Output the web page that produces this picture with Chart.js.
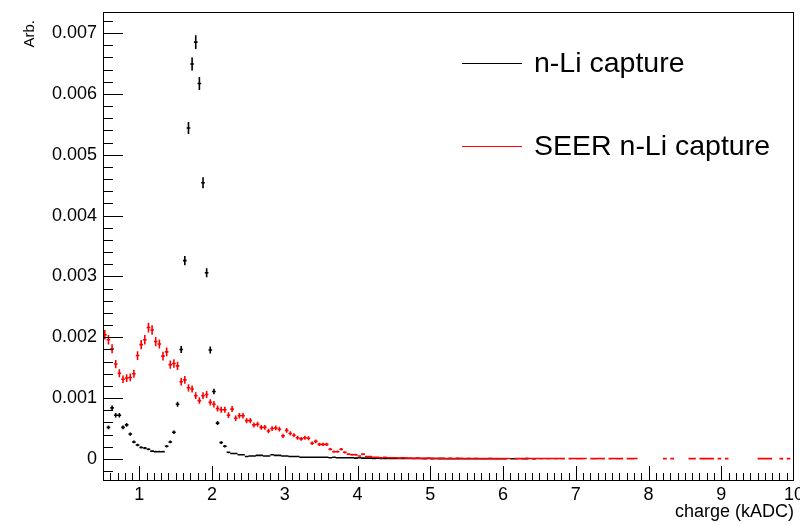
<!DOCTYPE html>
<html>
<head>
<meta charset="utf-8">
<script src="https://cdn.jsdelivr.net/npm/chart.js@4.4.1/dist/chart.umd.min.js"></script>
<style>
  html, body { margin: 0; padding: 0; background: #fff; }
  #wrap { width: 800px; height: 525px; }
</style>
</head>
<body>
<div id="wrap"><canvas id="histChart" width="800" height="525"></canvas></div>
<script>
// binning of the charge axis (kADC)
const binLow = 0.5;
const binWidth = 0.05;

// bin contents, in units of 0.001 (Arb.), null = empty bin
const nLiCapture = [
  null, 0.52, 0.84, 0.72, 0.72, 0.52, 0.56, 0.41, 0.28, 0.23,
  0.19, 0.18, 0.16, 0.13, 0.12, 0.12, 0.12, 0.21, 0.28, 0.44,
  0.90, 1.80, 3.26, 5.44, 6.49, 6.85, 6.17, 4.54, 3.06, 1.79,
  1.11, 0.59, 0.27, 0.21, 0.11, 0.09, 0.09, 0.07, 0.07, 0.04,
  0.05, 0.05, 0.06, 0.06, 0.05, 0.05, 0.07, 0.06, 0.06, 0.05,
  0.05, 0.04, 0.04, 0.04, 0.03, 0.03, 0.03, 0.03, 0.03, 0.03,
  0.03, 0.03, 0.02, 0.03, 0.02, 0.02, 0.02, 0.02, 0.02, 0.015,
  0.02, 0.015, 0.015, 0.015, 0.01, 0.015, 0.01, 0.01, 0.01, 0.01,
  0.01, 0.01, 0.008, 0.01, 0.008, 0.008, 0.01, 0.008, 0.006, 0.008,
  0.006, 0.008, 0.006, 0.006, 0.005, 0.006, 0.005, 0.006, 0.005, 0.005,
  0.005, 0.004, 0.005, 0.004, 0.005, 0.004, 0.004, 0.005, 0.004, 0.004,
  0.004, null, 0.004, 0.004, null, 0.004, 0.003, null, 0.004, null
];

const seerNLiCapture = [
  2.04, 1.96, 1.81, 1.56, 1.41, 1.31, 1.33, 1.34, 1.40, 1.70,
  1.88, 1.96, 2.16, 2.12, 1.93, 1.89, 1.69, 1.76, 1.55, 1.57,
  1.53, 1.27, 1.30, 1.17, 1.15, 1.04, 0.96, 1.04, 1.06, 0.93,
  0.90, 0.83, 0.81, 0.81, 0.72, 0.82, 0.67, 0.71, 0.71, 0.63,
  0.63, 0.56, 0.57, 0.52, 0.52, 0.46, 0.50, 0.51, 0.49, 0.38,
  0.47, 0.42, 0.39, 0.35, 0.33, 0.35, 0.34, 0.26, 0.29, 0.24,
  0.24, 0.24, 0.16, 0.12, 0.12, 0.16, 0.11, 0.08, 0.07, 0.07,
  0.05, 0.08, 0.04, 0.04, 0.03, 0.03, 0.02, 0.03, 0.02, 0.02,
  0.02, 0.015, 0.02, 0.015, 0.015, 0.01, 0.015, 0.01, 0.01, 0.015,
  0.01, 0.008, 0.01, 0.012, 0.008, 0.01, 0.008, 0.01, 0.012, 0.008,
  0.01, 0.008, 0.01, 0.008, 0.006, 0.008, 0.01, 0.008, 0.006, 0.008,
  0.006, 0.008, null, 0.008, 0.006, 0.008, 0.01, 0.008, 0.006, 0.008,
  0.006, 0.008, 0.006, 0.008, 0.006, 0.008, 0.006, null, 0.006, 0.008,
  0.006, 0.006, 0.008, null, 0.006, 0.006, 0.008, 0.006, null, 0.006,
  0.008, 0.006, 0.006, null, 0.006, 0.006, 0.008, null, null, null,
  null, null, null, null, 0.006, null, 0.006, null, null, null,
  null, 0.006, 0.006, null, 0.006, 0.006, 0.006, 0.006, null, 0.006,
  null, 0.006, null, null, null, null, null, null, null, null,
  0.006, 0.006, 0.006, 0.006, null, null, 0.006, null, 0.006, null
];

const xTicks = [1, 2, 3, 4, 5, 6, 7, 8, 9, 10];
const xTickLabels = ['1', '2', '3', '4', '5', '6', '7', '8', '9', '10'];
const yTicks = [0, 0.001, 0.002, 0.003, 0.004, 0.005, 0.006, 0.007];
const yTickLabels = ['0', '0.001', '0.002', '0.003', '0.004', '0.005', '0.006', '0.007'];

const seriesNames = ['n-Li capture', 'SEER n-Li capture'];
const seriesColors = ['#000000', '#ff0000'];
// normalisation used for the sqrt(N) error bars of each histogram
const errNorm = [1.8e-6, 3.0e-6];

const FONT = "'Liberation Sans', Arial, Helvetica, sans-serif";
const UNIT = 0.001;

function toPoints(values, norm) {
  const pts = [];
  values.forEach((v, i) => {
    if (v === null) return;
    const y = v * UNIT;
    pts.push({ x: binLow + binWidth * (i + 0.5), y: y, err: Math.sqrt(y * norm) });
  });
  return pts;
}

const datasets = [nLiCapture, seerNLiCapture].map((vals, i) => ({
  label: seriesNames[i],
  data: toPoints(vals, errNorm[i]),
  borderColor: seriesColors[i],
  backgroundColor: seriesColors[i],
  pointRadius: 0,
  pointHoverRadius: 0,
  showLine: false
}));

// error crosses: bin-wide horizontal bar + vertical error bar
const crossPlugin = {
  id: 'crosses',
  afterDatasetsDraw(chart) {
    const { ctx, chartArea: a, scales: { x, y } } = chart;
    ctx.save();
    ctx.beginPath();
    ctx.rect(a.left, a.top, a.right - a.left, a.bottom - a.top);
    ctx.clip();
    ctx.lineWidth = 1.6;
    chart.data.datasets.forEach(ds => {
      ctx.strokeStyle = ds.borderColor;
      ctx.beginPath();
      ds.data.forEach(p => {
        const px = x.getPixelForValue(p.x);
        const x0 = x.getPixelForValue(p.x - binWidth / 2);
        const x1 = x.getPixelForValue(p.x + binWidth / 2);
        const py = y.getPixelForValue(p.y);
        ctx.moveTo(x0, py);
        ctx.lineTo(x1, py);
        ctx.moveTo(px, y.getPixelForValue(p.y - p.err));
        ctx.lineTo(px, y.getPixelForValue(p.y + p.err));
      });
      ctx.stroke();
    });
    ctx.restore();
  }
};

// ROOT style frame with inward ticks, y title and legend
const framePlugin = {
  id: 'frame',
  afterDraw(chart) {
    const { ctx, chartArea: a, scales: { x, y } } = chart;
    ctx.save();
    ctx.strokeStyle = '#000';
    ctx.lineWidth = 1;
    ctx.strokeRect(a.left + 0.5, a.top + 0.5, a.right - a.left - 1, a.bottom - a.top);

    ctx.beginPath();
    for (let k = 0; k <= 95; k++) {
      const v = binLow + k * 0.1;
      if (v <= x.min || v >= x.max) continue;
      const px = Math.round(x.getPixelForValue(v)) + 0.5;
      const major = Math.abs(v - Math.round(v)) < 1e-6;
      ctx.moveTo(px, a.bottom);
      ctx.lineTo(px, a.bottom - (major ? 14 : 7));
    }
    for (let k = -2; k <= 36; k++) {
      const v = k * 0.0002;
      if (v <= y.min || v >= y.max) continue;
      const py = Math.round(y.getPixelForValue(v)) + 0.5;
      const major = k % 5 === 0;
      ctx.moveTo(a.left, py);
      ctx.lineTo(a.left + (major ? 20 : 10), py);
    }
    ctx.stroke();

    ctx.fillStyle = '#000';
    ctx.font = '15px ' + FONT;
    ctx.translate(30, 20);
    ctx.rotate(-Math.PI / 2);
    ctx.textAlign = 'right';
    ctx.textBaseline = 'middle';
    ctx.fillText('Arb.', 0, 0);
    ctx.restore();

    ctx.save();
    const rows = [63, 146];
    ctx.font = '28.5px ' + FONT;
    ctx.textBaseline = 'middle';
    chart.data.datasets.forEach((ds, i) => {
      ctx.strokeStyle = ds.borderColor;
      ctx.lineWidth = 1;
      ctx.beginPath();
      ctx.moveTo(462, rows[i] + 0.5);
      ctx.lineTo(522, rows[i] + 0.5);
      ctx.stroke();
      ctx.fillStyle = '#000';
      ctx.fillText(ds.label, 534, rows[i] + 1);
    });
    ctx.restore();
  }
};

new Chart(document.getElementById('histChart'), {
  type: 'scatter',
  data: { datasets: datasets },
  options: {
    responsive: false,
    animation: false,
    events: [],
    layout: { padding: { top: 12, right: 6, left: 0, bottom: 0 } },
    plugins: { legend: { display: false }, tooltip: { enabled: false } },
    scales: {
      x: {
        type: 'linear',
        min: 0.5,
        max: 10,
        grid: { display: false, drawTicks: false },
        border: { display: false },
        afterBuildTicks: s => { s.ticks = xTicks.map(v => ({ value: v })); },
        afterFit: s => { s.height = 45; s.paddingLeft = 0; s.paddingRight = 0; },
        ticks: {
          color: '#000',
          font: { family: FONT, size: 18 },
          padding: 4,
          maxRotation: 0,
          autoSkip: false,
          callback: (v, i) => xTickLabels[i]
        },
        title: {
          display: true,
          text: 'charge (kADC)',
          align: 'end',
          color: '#000',
          font: { family: FONT, size: 18 },
          padding: { top: 0, bottom: 2 }
        }
      },
      y: {
        type: 'linear',
        min: -0.000345,
        max: 0.007345,
        grid: { display: false, drawTicks: false },
        border: { display: false },
        afterBuildTicks: s => { s.ticks = yTicks.map(v => ({ value: v })); },
        afterFit: s => { s.width = 103; s.paddingTop = 0; s.paddingBottom = 0; },
        ticks: {
          color: '#000',
          font: { family: FONT, size: 18 },
          padding: 6,
          autoSkip: false,
          callback: (v, i) => yTickLabels[i]
        }
      }
    }
  },
  plugins: [crossPlugin, framePlugin]
});
</script>
</body>
</html>
